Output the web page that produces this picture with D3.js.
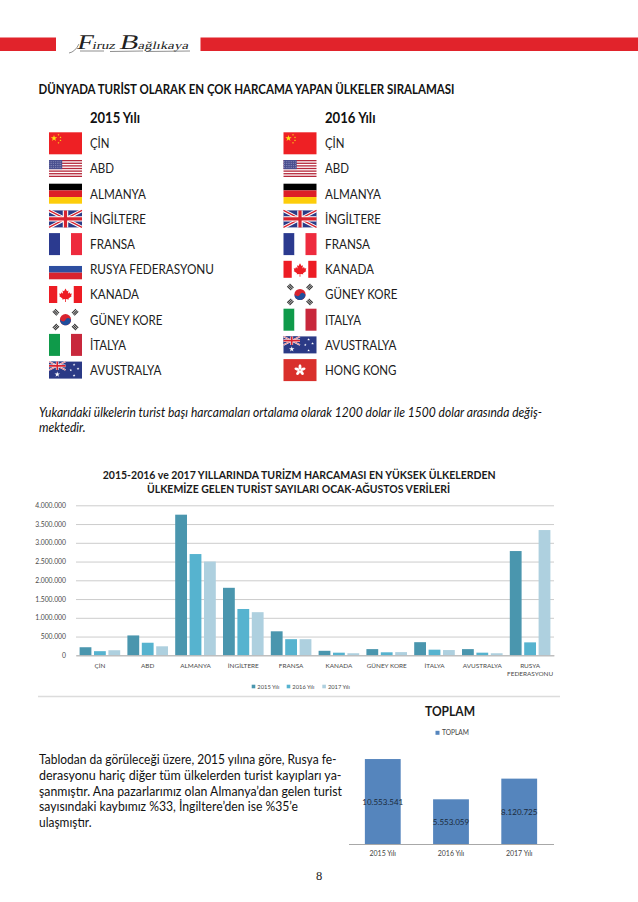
<!DOCTYPE html>
<html lang="tr"><head><meta charset="utf-8">
<style>html,body{margin:0;padding:0;background:#fff}svg{display:block}text{font-family:"Lato",sans-serif}</style>
<script src="https://cdn.jsdelivr.net/npm/d3@7"></script></head><body>
<script>
// ---------- data ----------
const countries = ["ÇİN","ABD","ALMANYA","İNGİLTERE","FRANSA","KANADA","GÜNEY KORE","İTALYA","AVUSTRALYA","RUSYA FEDERASYONU"];
const years = ["2015 Yılı","2016 Yılı","2017 Yılı"];
const tourists2015 = [215000,530000,3750000,1800000,640000,120000,165000,350000,165000,2780000];
const tourists2016 = [110000,335000,2700000,1235000,430000,70000,80000,150000,70000,345000];
const tourists2017 = [135000,240000,2500000,1150000,430000,55000,85000,140000,55000,3340000];
const yTicks = [0,500000,1000000,1500000,2000000,2500000,3000000,3500000,4000000];
const totals = [10553541,5553059,8120725];
const rank2015 = ["ÇİN","ABD","ALMANYA","İNGİLTERE","FRANSA","RUSYA FEDERASYONU","KANADA","GÜNEY KORE","İTALYA","AVUSTRALYA"];
const rank2016 = ["ÇİN","ABD","ALMANYA","İNGİLTERE","FRANSA","KANADA","GÜNEY KORE","ITALYA","AVUSTRALYA","HONG KONG"];
const flagCodes = {"ÇİN":"cn","ABD":"us","ALMANYA":"de","İNGİLTERE":"gb","FRANSA":"fr","RUSYA FEDERASYONU":"ru","KANADA":"ca","GÜNEY KORE":"kr","İTALYA":"it","ITALYA":"it","AVUSTRALYA":"au","HONG KONG":"hk"};

// ---------- layout / style ----------
const seriesColors = ["#4a96ae","#56b3cf","#aed0df"];
const totalColor = "#5585bd";
const rankWidths = {"ÇİN":19.5,"ABD":24,"ALMANYA":56,"İNGİLTERE":56,"FRANSA":45,"RUSYA FEDERASYONU":124,"KANADA":49,"GÜNEY KORE":72.5,"İTALYA":36,"ITALYA":36,"AVUSTRALYA":71.5,"HONG KONG":71.5};
const flagHeights = {cn:22,us:17,de:20,gb:17,fr:22,ru:20,ca:17,kr:20,it:22,au:17,hk:22};

const svg = d3.select("body").append("svg").attr("width",638).attr("height",902).attr("viewBox","0 0 638 902");
const fmt = d3.formatLocale({decimal:",",thousands:".",grouping:[3],currency:["",""]}).format(",d");

function txt(parent,str,x,y,o={}){
  const t = parent.append("text").attr("x",x).attr("y",y).text(str)
    .attr("font-size",o.size||12).attr("fill",o.fill||"#1a1a1a");
  if(o.weight) t.attr("font-weight",o.weight);
  if(o.style) t.attr("font-style",o.style);
  if(o.family) t.style("font-family",o.family);
  if(o.anchor) t.attr("text-anchor",o.anchor);
  if(o.width) t.attr("textLength",o.width).attr("lengthAdjust","spacingAndGlyphs");
  return t;
}

// ---------- header ----------
svg.append("rect").attr("x",0).attr("y",37.5).attr("width",56).attr("height",13.5).attr("fill","#e1232b");
svg.append("rect").attr("x",200.5).attr("y",37.5).attr("width",437.5).attr("height",13.5).attr("fill","#e1232b");
const sig = svg.append("text").attr("transform","translate(76,49) skewX(-14)").attr("fill","#222")
  .attr("textLength",112).attr("lengthAdjust","spacingAndGlyphs").style("font-family","'Liberation Serif',serif").attr("font-size",11);
sig.append("tspan").attr("font-size",21).text("F");
sig.append("tspan").text("iruz ");
sig.append("tspan").attr("font-size",21).text("B");
sig.append("tspan").text("ağlıkaya");
svg.append("path").attr("d","M69 53 Q75 52 79 44 M80 51 L104 51 M110 51.5 L143 51 M146 51.5 L190 51").attr("stroke","#444").attr("stroke-width",.6).attr("fill","none");

txt(svg,"DÜNYADA TURİST OLARAK EN ÇOK HARCAMA YAPAN ÜLKELER SIRALAMASI",38.5,94,{size:13.4,weight:700,width:416,fill:"#111"});

// ---------- flags ----------
function star(g,x,y,r,fill){
  g.append("path").attr("transform",`translate(${x},${y})`).attr("fill",fill)
    .attr("d",d3.symbol(d3.symbolStar,r*r*1.4)());
}
function miniUK(g,w,h){
  g.append("rect").attr("width",w).attr("height",h).attr("fill","#2b3a86");
  g.append("path").attr("d",`M0 0L${w} ${h}M${w} 0L0 ${h}`).attr("stroke","#fff").attr("stroke-width",h*.2);
  g.append("path").attr("d",`M0 0L${w} ${h}M${w} 0L0 ${h}`).attr("stroke","#d8232f").attr("stroke-width",h*.07);
  g.append("path").attr("d",`M${w/2} 0V${h}M0 ${h/2}H${w}`).attr("stroke","#fff").attr("stroke-width",h*.32);
  g.append("path").attr("d",`M${w/2} 0V${h}M0 ${h/2}H${w}`).attr("stroke","#d8232f").attr("stroke-width",h*.19);
}
const flags = {
  cn(g,w,h){ g.append("rect").attr("width",w).attr("height",h).attr("fill","#ee2024");
    star(g,5,6,3,"#fbe216");
    [[9.5,2.5],[11.5,5],[11.5,8],[9.5,10.5]].forEach(p=>star(g,p[0],p[1],1,"#fbe216")); },
  us(g,w,h){ const s=h/13;
    g.append("rect").attr("width",w).attr("height",h).attr("fill","#fff");
    d3.range(0,13,2).forEach(i=>g.append("rect").attr("y",i*s).attr("width",w).attr("height",s).attr("fill","#b5273a"));
    g.append("rect").attr("width",w*.4).attr("height",7*s).attr("fill","#4a4f8f");
    d3.range(1,5).forEach(r=>d3.range(0,7).forEach(c=>g.append("circle").attr("cx",1+c*1.8).attr("cy",r*1.8).attr("r",.4).attr("fill","#d6d8ee"))); },
  de(g,w,h){ ["#000","#dd1f26","#fdcd0a"].forEach((c,i)=>g.append("rect").attr("y",i*h/3).attr("width",w).attr("height",h/3).attr("fill",c)); },
  gb(g,w,h){ miniUK(g,w,h); },
  fr(g,w,h){ ["#2b3a8f","#fff","#ee2b3e"].forEach((c,i)=>g.append("rect").attr("x",i*w/3).attr("width",w/3).attr("height",h).attr("fill",c)); },
  ru(g,w,h){ ["#ffffff","#2d4ea0","#d8232f"].forEach((c,i)=>g.append("rect").attr("y",i*h/3).attr("width",w).attr("height",h/3).attr("fill",c)); },
  ca(g,w,h){ g.append("rect").attr("width",w).attr("height",h).attr("fill","#fff");
    g.append("rect").attr("width",w/4).attr("height",h).attr("fill","#ed1c24");
    g.append("rect").attr("x",w*.75).attr("width",w/4).attr("height",h).attr("fill","#ed1c24");
    g.append("path").attr("fill","#ed1c24").attr("transform",`translate(${w/2},${h/2})`)
      .attr("d","M0 -6L1.5 -3.2L3 -4L2.4 -.8L4 -2.2L4.6 -.8L6.3 -1L5.6 1.2L6.4 1.6L3 4L3.3 5L.4 4.6V7.5H-.4V4.6L-3.3 5L-3 4L-6.4 1.6L-5.6 1.2L-6.3 -1L-4.6 -.8L-4 -2.2L-2.4 -.8L-3 -4L-1.5 -3.2Z"); },
  kr(g,w,h){ const cx=w/2, cy=h/2, r=5.6;
    g.append("circle").attr("cx",cx).attr("cy",cy).attr("r",r).attr("fill","#d8232f");
    g.append("path").attr("transform",`translate(${cx},${cy}) rotate(25)`).attr("fill","#1f4e9c")
      .attr("d",`M${-r} 0A${r} ${r} 0 0 0 ${r} 0A${r/2} ${r/2} 0 0 0 0 0A${r/2} ${r/2} 0 0 1 ${-r} 0Z`);
    [[-1,-1,45],[1,-1,-45],[-1,1,-45],[1,1,45]].forEach(d=>{
      const t=g.append("g").attr("transform",`translate(${cx+d[0]*9.6},${cy+d[1]*7.4}) rotate(${d[2]})`);
      [-1.6,0,1.6].forEach(y=>t.append("rect").attr("x",-2.8).attr("y",y-.55).attr("width",5.6).attr("height",1.1).attr("fill","#333"));
    }); },
  it(g,w,h){ ["#0f9a4a","#fff","#c8283c"].forEach((c,i)=>g.append("rect").attr("x",i*w/3).attr("width",w/3).attr("height",h).attr("fill",c)); },
  au(g,w,h){ g.append("rect").attr("width",w).attr("height",h).attr("fill","#2b3a86");
    const u=g.append("g"); miniUK(u,w/2,h/2);
    star(g,w*.25,h*.75,2.6,"#fff");
    [[.76,.18],[.66,.5],[.88,.42],[.76,.82]].forEach(p=>star(g,w*p[0],h*p[1],1.3,"#fff")); },
  hk(g,w,h){ g.append("rect").attr("width",w).attr("height",h).attr("fill","#d9302c");
    d3.range(5).forEach(i=>g.append("ellipse").attr("transform",`translate(${w/2},${h/2}) rotate(${i*72}) translate(0,-3.1)`)
      .attr("rx",1.5).attr("ry",2.7).attr("fill","#fff")); }
};

// ---------- ranking columns ----------
function rankColumn(title,titleW,list,flagX,textX){
  txt(svg,title,textX,122.5,{size:14.5,weight:700,width:titleW,fill:"#111"});
  const rowY = d3.scalePoint().domain(d3.range(list.length)).range([143.3,370.1]);
  list.forEach((name,i)=>{
    const code = flagCodes[name], h = flagHeights[code], y = rowY(i);
    const g = svg.append("g").attr("transform",`translate(${flagX},${y-h/2})`);
    flags[code](g,33,h);
    txt(svg,name,textX,y+4.8,{size:13.5,width:rankWidths[name],fill:"#1c1c1c"});
  });
}
rankColumn("2015 Yılı",50,rank2015,49,90);
rankColumn("2016 Yılı",50.5,rank2016,283.5,325);

// ---------- paragraphs ----------
const italicLines = [["Yukarıdaki ülkelerin turist başı harcamaları ortalama olarak 1200 dolar ile 1500 dolar arasında değiş-",503],["mektedir.",46.5]];
italicLines.forEach((l,i)=>txt(svg,l[0],39,417+i*15,{size:12.5,style:"italic",width:l[1],fill:"#111"}));
const bodyLines = [["Tablodan da görüleceği üzere, 2015 yılına göre, Rusya fe-",297.5],["derasyonu hariç diğer tüm ülkelerden turist kayıpları ya-",302.5],["şanmıştır. Ana pazarlarımız olan Almanya’dan gelen turist",303],["sayısındaki kaybımız %33, İngiltere’den ise %35’e",259],["ulaşmıştır.",52.5]];
bodyLines.forEach((l,i)=>txt(svg,l[0],39,764+i*15.8,{size:13.2,width:l[1],fill:"#111"}));

// ---------- grouped bar chart ----------
txt(svg,"2015-2016 ve 2017 YILLARINDA TURİZM HARCAMASI EN YÜKSEK ÜLKELERDEN",102.7,478.7,{size:11.5,weight:700,width:393,fill:"#1a1a1a"});
txt(svg,"ÜLKEMİZE GELEN TURİST SAYILARI OCAK-AĞUSTOS VERİLERİ",147,493.3,{size:11.5,weight:700,width:303,fill:"#1a1a1a"});

const x0 = d3.scaleBand().domain(countries).range([76,554]);
const x1 = d3.scaleBand().domain(years).range([0,x0.bandwidth()]).paddingInner(.18).paddingOuter(.25);
const y = d3.scaleLinear().domain([0,4000000]).range([655.3,505.3]);

const gy = svg.append("g").attr("transform","translate(76,0)")
  .call(d3.axisLeft(y).tickValues(yTicks).tickFormat(fmt).tickSize(-478).tickPadding(10));
gy.select(".domain").remove();
gy.selectAll(".tick line").attr("stroke","#c6c6c6").attr("stroke-width",.9);
gy.selectAll(".tick text").attr("fill","#4a4a4a").attr("font-size",6.8).style("font-family","Lato,sans-serif");

const series = [tourists2015,tourists2016,tourists2017];
series.forEach((vals,s)=>{
  svg.append("g").selectAll("rect").data(vals).join("rect")
    .attr("x",(d,i)=>x0(countries[i])+x1(years[s]))
    .attr("y",d=>y(d)).attr("width",x1.bandwidth()).attr("height",d=>y(0)-y(d))
    .attr("fill",seriesColors[s]);
});

const gx = svg.append("g").attr("transform","translate(0,655.3)")
  .call(d3.axisBottom(x0).tickSize(0).tickPadding(0).tickFormat(""));
gx.select(".domain").attr("stroke","#b4b4b4").attr("stroke-width",1);
gx.selectAll(".tick").each(function(d){
  const parts = d==="RUSYA FEDERASYONU" ? ["RUSYA","FEDERASYONU"] : [d];
  const t = d3.select(this);
  parts.forEach((p,i)=>t.append("text").attr("y",12.9+i*8.3).attr("text-anchor","middle")
    .attr("fill","#4a4a4a").attr("font-size",6.4).style("font-family","Lato,sans-serif").text(p));
});

// legend
const legendX = [251.7,286.7,322.3];
years.forEach((yr,i)=>{
  svg.append("rect").attr("x",legendX[i]).attr("y",684.7).attr("width",3.6).attr("height",3.6).attr("fill",seriesColors[i]);
  txt(svg,yr,legendX[i]+5.6,688.9,{size:6.2,fill:"#4a4a4a",width:22});
});

// separator
svg.append("line").attr("x1",38).attr("x2",560).attr("y1",696.5).attr("y2",696.5).attr("stroke","#dcdcdc").attr("stroke-width",1.4);

// ---------- totals chart ----------
txt(svg,"TOPLAM",450,716,{size:14,weight:700,anchor:"middle",fill:"#1a1a1a",width:50});
svg.append("rect").attr("x",435.5).attr("y",730.8).attr("width",4).attr("height",4).attr("fill",totalColor);
txt(svg,"TOPLAM",442,735.3,{size:6.8,fill:"#444",width:27});

const xt = d3.scaleBand().domain(years).range([348.5,553.5]).paddingInner(.475).paddingOuter(.24);
const yt = d3.scaleLinear().domain([0,12000000]).range([844,747.4]);
svg.append("g").selectAll("rect").data(totals).join("rect")
  .attr("x",(d,i)=>xt(years[i])).attr("y",d=>yt(d)).attr("width",xt.bandwidth())
  .attr("height",d=>yt(0)-yt(d)).attr("fill",totalColor);
svg.append("g").selectAll("text").data(totals).join("text")
  .attr("x",(d,i)=>xt(years[i])+xt.bandwidth()/2).attr("y",d=>(yt(d)+yt(0))/2+3.2)
  .attr("text-anchor","middle").attr("font-size",8).attr("fill","#1b2a3c").text(fmt);
const gxt = svg.append("g").attr("transform","translate(0,844)")
  .call(d3.axisBottom(xt).tickSize(0).tickPadding(7));
gxt.select(".domain").attr("stroke","#a8a8a8");
gxt.selectAll(".tick text").attr("fill","#444").attr("font-size",7).style("font-family","Lato,sans-serif");

// page number
txt(svg,"8",319,879.5,{size:12.5,anchor:"middle",family:"'Liberation Serif',serif",fill:"#222"});
</script></body></html>
